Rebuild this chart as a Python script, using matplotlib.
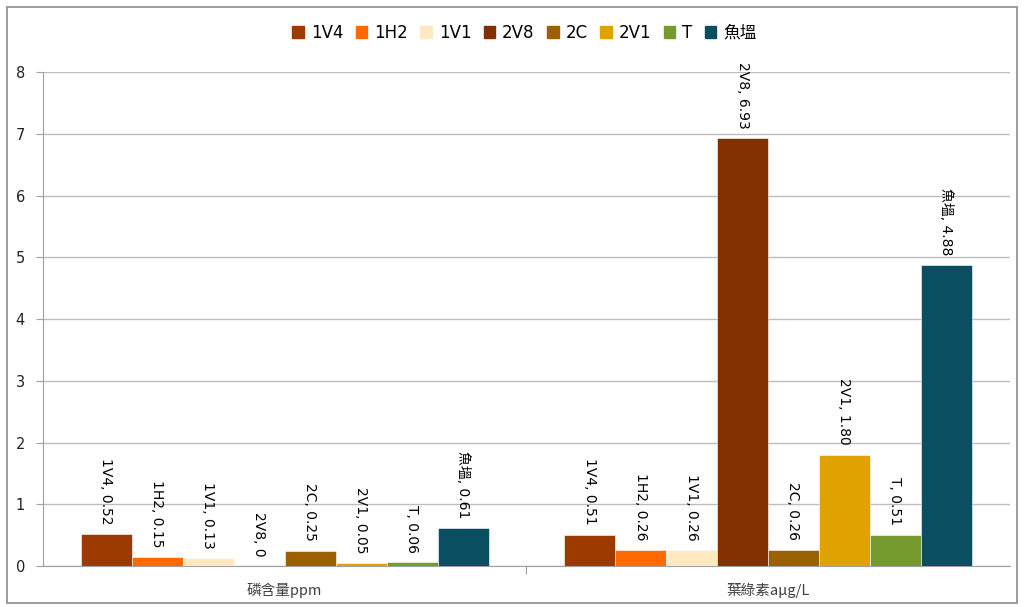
import matplotlib.pyplot as plt
import matplotlib.patches as mpatches
import numpy as np

plt.rcParams['font.family'] = ['DejaVu Sans', 'Noto Sans CJK TC']

# data
categories = ['磷含量ppm', '葉綠素aµg/L']
series = ['1V4', '1H2', '1V1', '2V8', '2C', '2V1', 'T', '魚塭']
phosphorus = [0.52, 0.15, 0.13, 0, 0.25, 0.05, 0.06, 0.61]
chlorophyll = [0.51, 0.26, 0.26, 6.93, 0.26, 1.80, 0.51, 4.88]
colors = ['#9C3A00', '#FF6A00', '#FFE9C2', '#833000',
          '#9C6000', '#E0A200', '#779A2F', '#0A4F61']

fig = plt.figure(figsize=(10.24, 6.07), dpi=100)
ax = fig.add_axes([0.042, 0.0675, 0.944, 0.8135])

# outer frame like the spreadsheet chart area
fig.patches.append(mpatches.Rectangle((0.007, 0.006), 0.986, 0.982, transform=fig.transFigure,
                                      fill=False, edgecolor='#8C8C8C', linewidth=1.2))

x = np.arange(len(categories))
width = 0.1055
for i, name in enumerate(series):
    vals = [phosphorus[i], chlorophyll[i]]
    pos = x - width * 3.5 + i * width
    ax.bar(pos, vals, width, color=colors[i], label=name, zorder=3,
           edgecolor='white', linewidth=0.4)
    for p, v in zip(pos, vals):
        txt = '0' if v == 0 else f'{v:.2f}'
        ax.annotate(f'{name}, {txt}', (p, v), xytext=(0, 7), textcoords='offset points',
                    rotation=270, ha='center', va='bottom', fontsize=10, color='black')

ax.set_xlim(-0.5, 1.5)
ax.set_ylim(0, 8)
ax.set_yticks(range(9))
ax.grid(axis='y', color='#BDBDBD', linewidth=1, zorder=0)
ax.set_axisbelow(True)

# category labels with tick marks at group boundaries
ax.set_xticks([0.5])
ax.set_xticklabels([''])
ax.tick_params(axis='x', length=6, color='#A0A0A0')
for xi, c in zip(x, categories):
    ax.text(xi, -0.27, c, ha='center', va='top', fontsize=10.5, color='#404040',
            family=['Noto Sans CJK TC', 'DejaVu Sans'])

ax.tick_params(axis='y', length=5, color='#A0A0A0', labelsize=10.5, pad=8, labelcolor='#222222')
for s in ['top', 'right']:
    ax.spines[s].set_visible(False)
ax.spines['left'].set_color('#A0A0A0')
ax.spines['bottom'].set_color('#A0A0A0')

handles = [mpatches.Patch(color=c) for c in colors]
fig.legend(handles, series, loc='center', bbox_to_anchor=(0.512, 0.946), ncol=8,
           frameon=False, handlelength=0.7, handleheight=0.7,
           handletextpad=0.4, columnspacing=0.75,
           prop={'family': ['DejaVu Sans', 'Noto Sans CJK TC'], 'size': 12})

fig.savefig('out.png', dpi=100)
